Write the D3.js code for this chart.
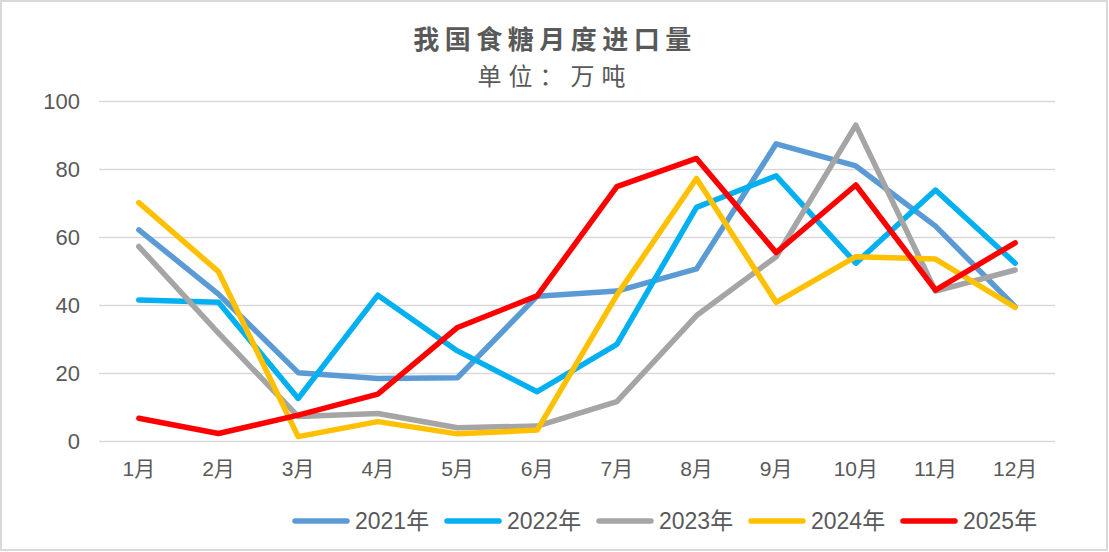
<!DOCTYPE html>
<html>
<head>
<meta charset="utf-8">
<script src="https://cdn.jsdelivr.net/npm/d3@7"></script>
<style>
  html, body { margin: 0; padding: 0; background: #fff; }
  svg { display: block; }
  .tick text { fill: #595959; }
</style>
</head>
<body>
<div id="chart"></div>
<script>
const months = ['1月', '2月', '3月', '4月', '5月', '6月', '7月', '8月', '9月', '10月', '11月', '12月'];
const seriesNames = ['2021年', '2022年', '2023年', '2024年', '2025年'];
const colors = ['#5B9BD5', '#00B0F0', '#A5A5A5', '#FFC000', '#FF0000'];
const yTicks = [0, 20, 40, 60, 80, 100];

const v2021 = [62.1, 43.2, 20.1, 18.4, 18.6, 42.6, 44.1, 50.6, 87.4, 80.9, 63.2, 39.5];
const v2022 = [41.5, 40.8, 12.5, 42.9, 26.5, 14.5, 28.4, 68.7, 78.0, 52.3, 73.8, 52.3];
const v2023 = [57.2, 31.7, 7.2, 8.1, 3.9, 4.4, 11.6, 36.9, 54.2, 92.9, 44.1, 50.3];
const v2024 = [70.1, 49.8, 1.3, 5.7, 2.1, 3.2, 42.9, 77.2, 40.8, 54.2, 53.5, 39.3];
const v2025 = [6.7, 2.2, 7.6, 13.8, 33.4, 42.7, 74.8, 83.1, 55.4, 75.3, 44.4, 58.3];
const allValues = [v2021, v2022, v2023, v2024, v2025];

const width = 1109, height = 552;
const plotLeft = 99, plotRight = 1055, plotTop = 101, plotBottom = 441;
const fontFam = '"Liberation Sans", Arial, "Noto Sans CJK SC", sans-serif';

const svg = d3.select('#chart').append('svg')
  .attr('width', width)
  .attr('height', height);

// chart border
svg.append('rect')
  .attr('x', 1).attr('y', 1)
  .attr('width', width - 3).attr('height', height - 3)
  .attr('fill', '#fff')
  .attr('stroke', '#d9d9d9')
  .attr('stroke-width', 2);

const x = d3.scaleBand().domain(months).range([plotLeft, plotRight]);
const y = d3.scaleLinear().domain([0, 100]).range([plotBottom, plotTop]);

// title
svg.append('text')
  .attr('x', 555).attr('y', 49)
  .attr('text-anchor', 'middle')
  .attr('font-family', '"Noto Sans CJK SC", sans-serif')
  .attr('font-weight', 'bold')
  .attr('font-size', 26)
  .attr('letter-spacing', 5.5)
  .attr('fill', '#595959')
  .text('我国食糖月度进口量');
svg.append('text')
  .attr('x', 555).attr('y', 85)
  .attr('text-anchor', 'middle')
  .attr('font-family', '"Noto Sans CJK SC", sans-serif')
  .attr('font-size', 24)
  .attr('letter-spacing', 7)
  .attr('fill', '#595959')
  .text('单位：万吨');

// gridlines + y labels
const yAxis = d3.axisLeft(y).tickValues(yTicks).tickSize(-(plotRight - plotLeft)).tickPadding(19);
const gy = svg.append('g')
  .attr('transform', `translate(${plotLeft},0)`)
  .call(yAxis);
gy.select('.domain').remove();
gy.selectAll('.tick line').attr('stroke', '#d9d9d9').attr('stroke-width', 1.5);
gy.selectAll('.tick text')
  .attr('font-family', fontFam)
  .attr('font-size', 22);

// x labels
const xAxis = d3.axisBottom(x).tickSize(0).tickPadding(20);
const gx = svg.append('g')
  .attr('transform', `translate(0,${plotBottom})`)
  .call(xAxis);
gx.select('.domain').remove();
gx.selectAll('.tick text')
  .attr('font-family', fontFam)
  .attr('font-size', 21);

// lines
const line = d3.line()
  .x((d, i) => x(months[i]) + x.bandwidth() / 2)
  .y(d => y(d));

svg.append('g').selectAll('path')
  .data(allValues)
  .enter()
    .append('path')
    .attr('d', d => line(d))
    .attr('fill', 'none')
    .attr('stroke', (d, i) => colors[i])
    .attr('stroke-width', 5.5)
    .attr('stroke-linejoin', 'round')
    .attr('stroke-linecap', 'round');

// legend
const legend = svg.append('g').attr('transform', 'translate(295,521)');
const item = legend.selectAll('g')
  .data(seriesNames)
  .enter()
    .append('g')
    .attr('transform', (d, i) => `translate(${i * 152},0)`);
item.append('line')
  .attr('x1', 0).attr('x2', 52)
  .attr('stroke', (d, i) => colors[i])
  .attr('stroke-width', 5.5)
  .attr('stroke-linecap', 'round');
item.append('text')
  .attr('x', 60).attr('y', 8)
  .attr('font-family', fontFam)
  .attr('font-size', 23)
  .attr('fill', '#595959')
  .text(d => d);
</script>
</body>
</html>
